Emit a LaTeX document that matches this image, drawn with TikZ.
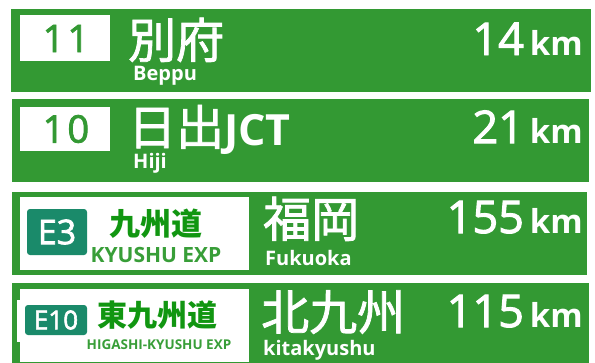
\documentclass[tikz,border=0pt]{standalone}
\usepackage{fontspec}
\setmainfont{Open Sans}
\newfontfamily\jpfont{Noto Sans CJK JP}
\newfontfamily\jpmed[FakeBold=1.6]{Noto Sans CJK JP}
\newfontfamily\medfont[FakeBold=2.2]{Open Sans}
\newfontfamily\latinfont{Open Sans}
\usetikzlibrary{positioning}
\definecolor{signgreen}{RGB}{51,153,51}
\definecolor{routeteal}{RGB}{26,138,106}
\definecolor{namegreen}{RGB}{17,150,17}
\definecolor{expgreen}{RGB}{56,158,56}
\newcommand{\fsz}[1]{\fontsize{#1}{#1}\selectfont}

\begin{document}
\begin{tikzpicture}[x=1pt, y=-1pt,
panel/.style={fill=signgreen},
numbox/.style={fill=white},
exitnum/.style={text=signgreen, font=\medfont\fsz{38}, inner sep=0},
place/.style={anchor=base west, text=white, inner sep=0, font=\jpmed\fsz{48}},
roman/.style={anchor=base west, text=white, inner sep=0, font=\bfseries\fsz{20}},
dist/.style={anchor=base east, text=white, inner sep=0, font=\medfont\fsz{45}},
badge/.style={fill=routeteal, rounded corners=3pt},
badgetxt/.style={text=white, inner sep=0},
route/.style={anchor=base, text=namegreen, inner sep=0, font=\jpfont\bfseries},
routeen/.style={anchor=base, text=expgreen, inner sep=0, font=\bfseries}
]
\useasboundingbox (0,0) rectangle (595,362);

%Panels
\fill[panel] (11,9) rectangle (591,92);
\fill[panel] (12,99) rectangle (589,182);
\fill[panel] (12,192) rectangle (587,275);
\fill[panel] (12,283) rectangle (589,366);

%Boxes
\fill[numbox] (20,15) rectangle (110,61);
\fill[numbox] (20,107) rectangle (110,151);
\fill[numbox] (20,197) rectangle (249,270);
\fill[numbox] (20,289) rectangle (249,362);
\fill[numbox] (17,300) rectangle (20,342);
\fill[badge] (27,209) rectangle (87,255);
\fill[badge] (25,305) rectangle (87,335);

%Nodes
\node[exitnum] (N11) at (66,38.5) {1\kern3pt 1};
\node[place]   (Beppu) at (128,58) {別府};
\node[roman]   (BeppuR) at (133,80) {Beppu};
\node[dist]    (D14) at (583,55) {14\kern6pt{\latinfont\bfseries\fsz{33}km}};

\node[exitnum] (N10) at (66,129) {1\kern3pt 0};
\node[place]   (Hiji) at (128,145) {日出{\latinfont\bfseries\fsz{43}JCT}};
\node[roman]   (HijiR) at (133,168) {Hiji};
\node[dist]    (D21) at (583,143) {21\kern6pt{\latinfont\bfseries\fsz{33}km}};

\node[badgetxt, font=\medfont\fsz{34}] (E3) at (57,232) {E3};
\node[route, font=\jpfont\bfseries\fsz{31}] (Kyushu) at (156,235) {九州道};
\node[routeen, font=\bfseries\fsz{21}] (KyushuR) at (156,262) {KYUSHU EXP};
\node[place]   (Fukuoka) at (263,237) {福岡};
\node[roman]   (FukuokaR) at (265,265) {Fukuoka};
\node[dist]    (D155) at (583,233) {155\kern6pt{\latinfont\bfseries\fsz{33}km}};

\node[badgetxt, font=\medfont\fsz{26}] (E10) at (56,320) {E10};
\node[route, font=\jpfont\bfseries\fsz{30}] (Higashi) at (157,326) {東九州道};
\node[routeen, font=\bfseries\fsz{13.5}] (HigashiR) at (159,349) {HIGASHI-KYUSHU EXP};
\node[place]   (Kita) at (261,330) {北九州};
\node[roman]   (KitaR) at (263,355) {kitakyushu};
\node[dist]    (D115) at (583,327) {115\kern6pt{\latinfont\bfseries\fsz{33}km}};
\end{tikzpicture}
\end{document}
